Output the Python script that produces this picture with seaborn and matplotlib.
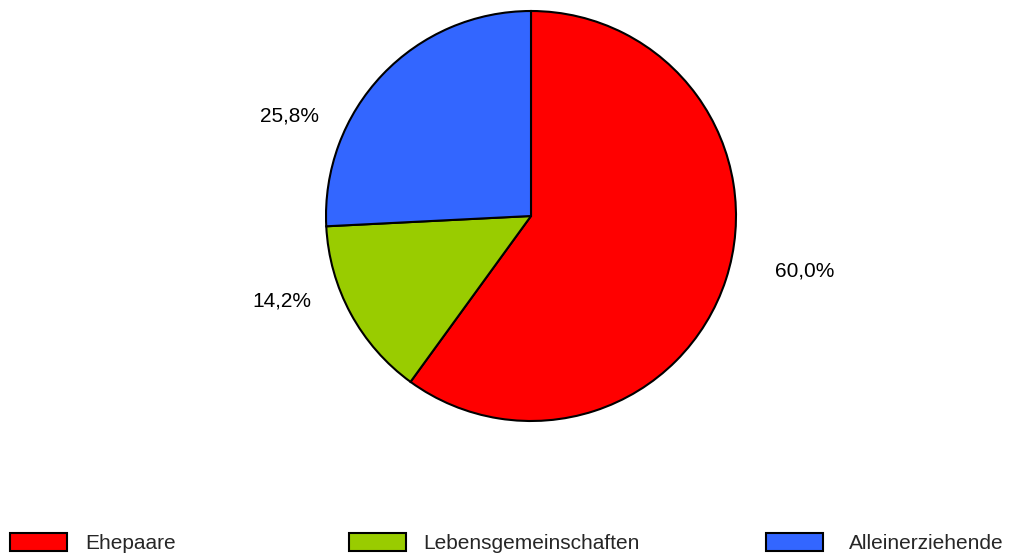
import matplotlib
matplotlib.use("Agg")
import matplotlib.pyplot as plt
import matplotlib.patches as mpatches
import seaborn as sns

categories = ["Ehepaare", "Lebensgemeinschaften", "Alleinerziehende"]
shares = [60.0, 14.2, 25.8]
colors = ["#FF0000", "#99CC00", "#3366FF"]
# label positions in pie units (radius = 1)
label_pos = [(1.337, -0.268), (-1.215, -0.415), (-1.176, 0.488)]
legend_x = [10, 349, 766]
legend_pad = [0.86, 0.82, 1.22]

sns.set_theme(style="white")
plt.rcParams["font.family"] = ["Liberation Sans", "DejaVu Sans"]

W, H = 1011, 558
fig = plt.figure(figsize=(W / 100, H / 100), dpi=100)
cx, cy, r = 531, 216, 205
ax = fig.add_axes([(cx - r) / W, (H - cy - r) / H, 2 * r / W, 2 * r / H])

ax.pie(shares, colors=colors, startangle=90, counterclock=False,
       wedgeprops=dict(edgecolor="black", linewidth=1.5), radius=1)
for val, (x, y) in zip(shares, label_pos):
    ax.text(x, y, f"{val:.1f}%".replace(".", ","), ha="center", va="center",
            fontsize=15, color="black")
ax.set_xlim(-1, 1)
ax.set_ylim(-1, 1)
ax.set_aspect("equal")
ax.axis("off")

for name, col, xp, pad in zip(categories, colors, legend_x, legend_pad):
    h = mpatches.Patch(facecolor=col, edgecolor="black", linewidth=1.5)
    fig.legend([h], [name], loc="center left",
               bbox_to_anchor=(xp / W, 1 - 543 / H), frameon=False,
               fontsize=15, handlelength=2.75, handleheight=0.95,
               handletextpad=pad, borderpad=0, borderaxespad=0)

fig.savefig("out.png", dpi=100, facecolor="white")
